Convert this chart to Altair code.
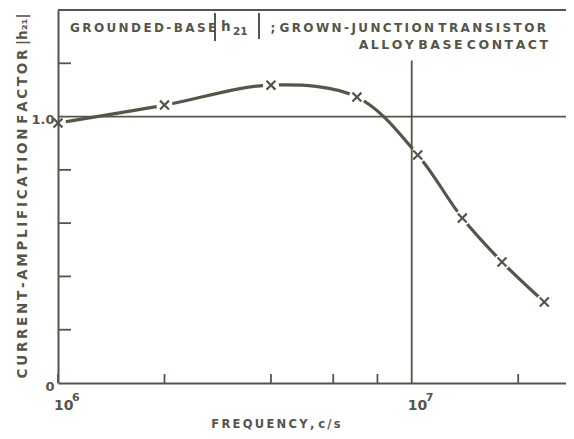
import altair as alt
import pandas as pd

# ---- data ----
freq = [1.0e6, 2.0e6, 4.0e6, 7.0e6, 1.04e7, 1.39e7, 1.8e7, 2.37e7]
h21 = [0.976, 1.043, 1.118, 1.073, 0.856, 0.619, 0.454, 0.304]

x_minor_ticks = [1e6, 2e6, 4e6, 6e6, 8e6, 2e7]
y_minor_ticks = [0.2, 0.4, 0.6, 0.8, 1.2]
decades = [1e6, 1e7]
decade_base = ["10", "10"]
decade_exp = ["6", "7"]

INK = "#55554a"
FONT = "DejaVu Sans"
X_DOMAIN = [1e6, 2.73e7]
Y_DOMAIN = [0, 1.4]
W, H = 508, 373


def spaced(s, gap="   "):
    # letter-spaced lettering like the original stencil text
    out = []
    for w in s.split(" "):
        out.append("\u2009".join(list(w)))
    return gap.join(out)


df = pd.DataFrame({"f": freq, "h": h21})
xt = pd.DataFrame({"f": x_minor_ticks})
yt = pd.DataFrame({"h": y_minor_ticks})
dec = pd.DataFrame({"f": decades, "b": decade_base, "e": decade_exp})

xs = alt.Scale(type="log", domain=X_DOMAIN, nice=False)
ys = alt.Scale(domain=Y_DOMAIN, nice=False, zero=False)

base = alt.Chart(df)

curve = base.mark_line(color=INK, strokeWidth=3.2, interpolate="catmull-rom").encode(
    x=alt.X("f:Q", scale=xs,
            axis=alt.Axis(labels=False, ticks=False, title=None, domainColor=INK,
                          domainWidth=2, grid=False, zindex=1)),
    y=alt.Y("h:Q", scale=ys,
            axis=alt.Axis(values=[0, 1.0], labelExpr="datum.value == 0 ? '0' : '1.0'",
                          ticks=False, title=None, domainColor=INK, domainWidth=2,
                          grid=False, labelFont=FONT, labelFontWeight="bold",
                          labelFontSize=13, labelColor=INK, labelPadding=4,
                          labelOffset=3, zindex=1)),
)

gaps = base.mark_point(shape="circle", filled=True, color="white", fill="white",
                       stroke="white", strokeWidth=0, size=260, opacity=1,
                       fillOpacity=1).encode(
    x=alt.X("f:Q", scale=xs), y=alt.Y("h:Q", scale=ys)
)

crosses = base.mark_point(shape="M-1,-1L1,1M1,-1L-1,1", filled=False, color=INK,
                          strokeWidth=2.2, size=80, opacity=1).encode(
    x=alt.X("f:Q", scale=xs), y=alt.Y("h:Q", scale=ys)
)

one_line = alt.Chart(pd.DataFrame({"h": [1.0]})).mark_rule(color=INK, strokeWidth=1.8).encode(
    y=alt.Y("h:Q", scale=ys), x=alt.value(0), x2=alt.value(W)
)
top_line = alt.Chart(pd.DataFrame({"h": [1.4]})).mark_rule(color=INK, strokeWidth=2).encode(
    y=alt.Y("h:Q", scale=ys), x=alt.value(0), x2=alt.value(W)
)
dec_line = alt.Chart(pd.DataFrame({"f": [1e7], "y0": [0.0], "y1": [1.21]})).mark_rule(
    color=INK, strokeWidth=1.8).encode(
    x=alt.X("f:Q", scale=xs), y=alt.Y("y0:Q", scale=ys), y2="y1:Q"
)

x_ticks = alt.Chart(xt).mark_rule(color=INK, strokeWidth=1.8).encode(
    x=alt.X("f:Q", scale=xs), y=alt.value(H), y2=alt.value(H - 9)
)
y_ticks = alt.Chart(yt).mark_rule(color=INK, strokeWidth=1.8).encode(
    y=alt.Y("h:Q", scale=ys), x=alt.value(0), x2=alt.value(13)
)

dec_base = alt.Chart(dec).mark_text(align="left", baseline="alphabetic", font=FONT,
                                    fontWeight="bold", fontSize=14, color=INK, dx=-4).encode(
    x=alt.X("f:Q", scale=xs), y=alt.value(H + 27), text="b:N"
)
dec_exp = alt.Chart(dec).mark_text(align="left", baseline="alphabetic", font=FONT,
                                   fontWeight="bold", fontSize=11, color=INK, dx=14).encode(
    x=alt.X("f:Q", scale=xs), y=alt.value(H + 18), text="e:N"
)


def label(txt, x, y, size=12.5, align="left", angle=0):
    return alt.Chart(pd.DataFrame({"t": [txt]})).mark_text(
        align=align, baseline="alphabetic", font=FONT, fontWeight="bold",
        fontSize=size, color=INK, angle=angle).encode(
        x=alt.value(x), y=alt.value(y), text="t:N")


def bar(x, y0, y1):
    return alt.Chart(pd.DataFrame({"a": [0]})).mark_rule(color=INK, strokeWidth=2).encode(
        x=alt.value(x), y=alt.value(y0), y2=alt.value(y1))


title_parts = [
    label(spaced("GROUNDED-BASE"), 12, 22, size=12),
    bar(157, 3, 31),
    label("h", 163, 21, size=13.5),
    label("21", 175, 25, size=10.5),
    bar(201, 3, 29),
    label(spaced("; GROWN-JUNCTION TRANSISTOR", gap="  "), 488, 22, size=12, align="right"),
    label(spaced("ALLOY BASE CONTACT"), 490, 39, size=12.5, align="right"),
    label(spaced("FREQUENCY, c/s"), 218, H + 45, size=11.5, align="center"),
    label(spaced("CURRENT-AMPLIFICATION FACTOR") + "  |h\u2082\u2081|", -31, 186,
          size=13.5, align="center", angle=270),
]

chart = alt.layer(
    curve, gaps, one_line, top_line, dec_line, crosses, x_ticks, y_ticks,
    dec_base, dec_exp, *title_parts
).properties(
    width=W, height=H,
    autosize=alt.AutoSizeParams(type="none"),
    padding={"left": 50, "top": 2, "right": 0, "bottom": 48},
    background="white",
).configure_view(stroke=None)

chart.save("out.html", embed_options={"renderer": "svg", "actions": False})
